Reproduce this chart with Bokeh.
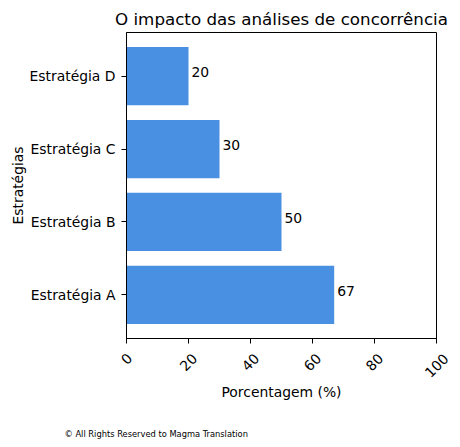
from math import pi
from bokeh.plotting import figure
from bokeh.layouts import column
from bokeh.models import ColumnDataSource, FixedTicker, Range1d
from bokeh.embed import file_html
from bokeh.resources import INLINE
from bokeh.core.properties import value

categories = ["Estratégia A", "Estratégia B", "Estratégia C", "Estratégia D"]
values = [67, 50, 30, 20]
x_ticks = [0, 20, 40, 60, 80, 100]

FONT = "DejaVu Sans"
FS = "13.9px"
ypos = list(range(len(categories)))
src = ColumnDataSource(dict(y=ypos, v=values, lab=[str(v) for v in values]))

XMIN, XMAX = 0, 100
YMIN, YMAX = -0.6, 3.6
W = 460
LEFT, RIGHT = 126, 24
MAIN_H, LAB_H = 347, 100

# ---------------- main chart ----------------
p = figure(width=W, height=MAIN_H, output_backend="svg", toolbar_location=None,
           x_range=Range1d(XMIN, XMAX), y_range=Range1d(YMIN, YMAX),
           min_border_left=LEFT, min_border_right=RIGHT, min_border_top=32, min_border_bottom=9)

p.hbar(y="y", right="v", left=0, height=0.8, source=src, color="#4a90e2", line_color=None)
p.text(x="v", y="y", text="lab", source=src, x_offset=3, y_offset=-4,
       text_font=value(FONT), text_font_size=FS, text_baseline="middle", text_align="left",
       text_color="black")

p.title.text = "O impacto das análises de concorrência"
p.title.align = "center"
p.title.text_font = FONT
p.title.text_font_size = "16.7px"
p.title.text_font_style = "normal"
p.title.text_color = "black"
p.title.offset = 0
p.title.standoff = 7

p.xgrid.visible = False
p.ygrid.visible = False
p.outline_line_color = "black"
p.outline_line_width = 1

for ax in (p.xaxis[0], p.yaxis[0]):
    ax.axis_line_color = "black"
    ax.major_tick_line_color = "black"
    ax.major_tick_out = 5
    ax.major_tick_in = 0
    ax.minor_tick_line_color = None
    ax.major_label_text_font = FONT
    ax.major_label_text_font_size = FS
    ax.major_label_text_color = "black"
    ax.axis_label_text_font = FONT
    ax.axis_label_text_font_size = FS
    ax.axis_label_text_font_style = "normal"
    ax.axis_label_text_color = "black"

p.xaxis.ticker = FixedTicker(ticks=x_ticks)
p.xaxis.major_label_overrides = {t: "" for t in x_ticks}
p.xaxis.major_label_standoff = 0
p.yaxis.ticker = FixedTicker(ticks=ypos)
p.yaxis.major_label_overrides = {i: c for i, c in enumerate(categories)}
p.yaxis.major_label_standoff = 6
p.yaxis.axis_label = "Estratégias"
p.yaxis.axis_label_standoff = 1

# ---------------- strip below: rotated x tick labels, x title, credit ----------------
# its frame is aligned with the main frame by the column layout, so it shares the x scale
q = figure(width=W, height=LAB_H, output_backend="svg", toolbar_location=None,
           x_range=Range1d(XMIN, XMAX), y_range=Range1d(0, 1),
           x_axis_location=None, y_axis_location=None,
           min_border_left=LEFT, min_border_right=RIGHT, min_border_top=0, min_border_bottom=0)
q.xgrid.visible = False
q.ygrid.visible = False
q.outline_line_color = None

tick_src = ColumnDataSource(dict(x=x_ticks, y=[1] * len(x_ticks), t=[str(t) for t in x_ticks],
                                 off=[8 + 3.4 * len(str(t)) for t in x_ticks]))
r1 = q.text(x="x", y="y", text="t", source=tick_src, y_offset="off", angle=pi / 4,
            text_align="center", text_baseline="middle", text_font=value(FONT),
            text_font_size=FS, text_color="black")

r2 = q.text(x=[(XMIN + XMAX) / 2], y=[1], text=["Porcentagem (%)"], y_offset=44,
            text_align="center", text_baseline="middle", text_font=value(FONT),
            text_font_size=FS, text_color="black")

r3 = q.text(x=[XMIN], y=[1], text=["© All Rights Reserved to Magma Translation"],
            x_offset=-62, y_offset=86, text_align="left", text_baseline="middle",
            text_font=value(FONT), text_font_size="8.3px", text_color="black")

for r in (r1, r2, r3):
    r.level = "overlay"

open("out.html", "w").write(file_html(column(p, q, spacing=0), INLINE))
